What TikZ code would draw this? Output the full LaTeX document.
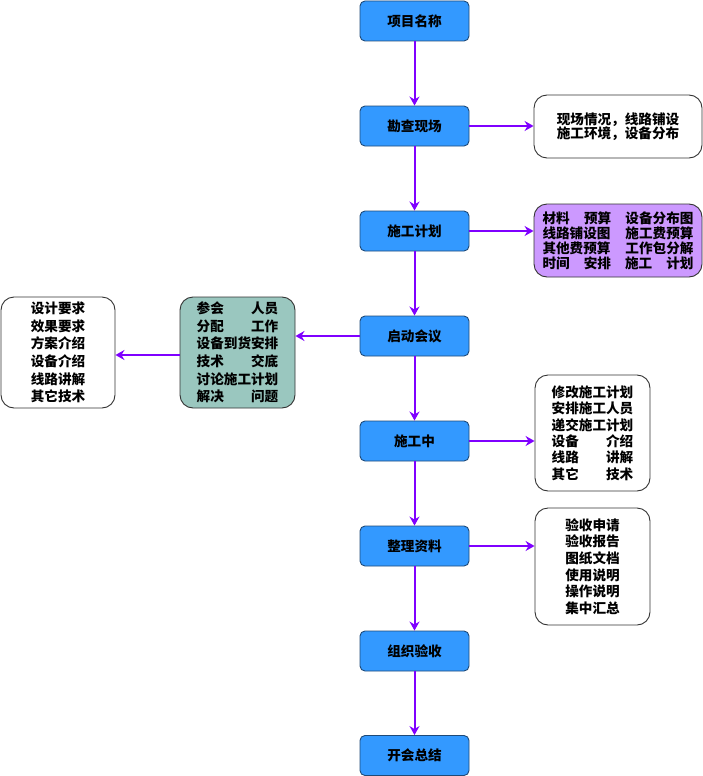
\documentclass[tikz,border=0pt]{standalone}
\usepackage{fontspec}
\newfontfamily\cjk{Noto Sans CJK SC}
\usetikzlibrary{arrows.meta}
\definecolor{mainfill}{HTML}{3399FF}
\definecolor{mainline}{HTML}{1F4A78}
\definecolor{arrowc}{HTML}{7F00FF}
\definecolor{purplefill}{HTML}{CC99FF}
\definecolor{tealfill}{HTML}{9AC7BF}
\definecolor{sideline}{HTML}{333333}
\tikzset{
  mainbox/.style={draw=mainline, fill=mainfill, line width=0.9pt, rounded corners=5pt,
    minimum width=109pt, minimum height=40pt, inner sep=0pt,
    font={\cjk\bfseries\fontsize{13.6pt}{16pt}\selectfont}},
  sidebox/.style={draw=sideline, fill=white, line width=0.9pt, rounded corners=13pt,
    inner sep=0pt, align=center},
  flow/.style={draw=arrowc, line width=2pt, -{Stealth[length=9pt,width=10pt,inset=3pt]}},
  ls/.style={font={\cjk\bfseries\fontsize{13.6pt}{#1}\selectfont}}
}
\begin{document}
\begin{tikzpicture}[x=1pt,y=-1pt]
\useasboundingbox (0,0) rectangle (703,776);
% main column
\node[mainbox] (b1) at (414.5,21) {项目名称};
\node[mainbox] (b2) at (414.5,126) {勘查现场};
\node[mainbox] (b3) at (414.5,231) {施工计划};
\node[mainbox] (b4) at (414.5,336) {启动会议};
\node[mainbox] (b5) at (414.5,441) {施工中};
\node[mainbox] (b6) at (414.5,546) {整理资料};
\node[mainbox] (b7) at (414.5,651) {组织验收};
\node[mainbox] (b8) at (414.5,755.5) {开会总结};
% side boxes
\node[sidebox, ls=14.5pt, minimum width=168pt, minimum height=63pt] (r1) at (618,126.5)
  {现场情况，线路铺设\\施工环境，设备分布};
\node[sidebox, ls=15pt, fill=purplefill, minimum width=168pt, minimum height=73pt] (r2) at (618,240.5)
  {\makebox[151pt]{材料\hfill 预算\hfill 设备分布图}\\
   \makebox[151pt]{线路铺设图\hfill 施工费预算}\\
   \makebox[151pt]{其他费预算\hfill 工作包分解}\\
   \makebox[151pt]{时间\hfill 安排\hfill 施工\hfill 计划}};
\node[sidebox, ls=16.4pt, minimum width=115pt, minimum height=116pt] (r3) at (592.5,433)
  {修改施工计划\\安排施工人员\\递交施工计划\\
   \makebox[81.6pt]{设备\hfill 介绍}\\
   \makebox[81.6pt]{线路\hfill 讲解}\\
   \makebox[81.6pt]{其它\hfill 技术}};
\node[sidebox, ls=16.7pt, minimum width=115pt, minimum height=117pt] (r4) at (592.5,566.5)
  {验收申请\\验收报告\\图纸文档\\使用说明\\操作说明\\集中汇总};
\node[sidebox, ls=17.6pt, fill=tealfill, minimum width=115pt, minimum height=111pt] (t) at (237.5,352.5)
  {\makebox[81.6pt]{参会\hfill 人员}\\
   \makebox[81.6pt]{分配\hfill 工作}\\
   设备到货安排\\
   \makebox[81.6pt]{技术\hfill 交底}\\
   讨论施工计划\\
   \makebox[81.6pt]{解决\hfill 问题}};
\node[sidebox, ls=17.6pt, minimum width=114pt, minimum height=111pt] (l) at (58,352.5)
  {设计要求\\效果要求\\方案介绍\\设备介绍\\线路讲解\\其它技术};
% vertical arrows
\draw[flow] (b1) -- (b2);
\draw[flow] (b2) -- (b3);
\draw[flow] (b3) -- (b4);
\draw[flow] (b4) -- (b5);
\draw[flow] (b5) -- (b6);
\draw[flow] (b6) -- (b7);
\draw[flow] (b7) -- (b8);
% side arrows
\draw[flow] (b2.east) -- (b2.east -| r1.west);
\draw[flow] (b3.east) -- (b3.east -| r2.west);
\draw[flow] (b5.east) -- (b5.east -| r3.west);
\draw[flow] (b6.east) -- (b6.east -| r4.west);
\draw[flow] (b4.west) -- (b4.west -| t.east);
\draw[flow] ([yshift=-2.5pt]t.west) -- ([yshift=-2.5pt]t.west -| l.east);
\end{tikzpicture}
\end{document}
